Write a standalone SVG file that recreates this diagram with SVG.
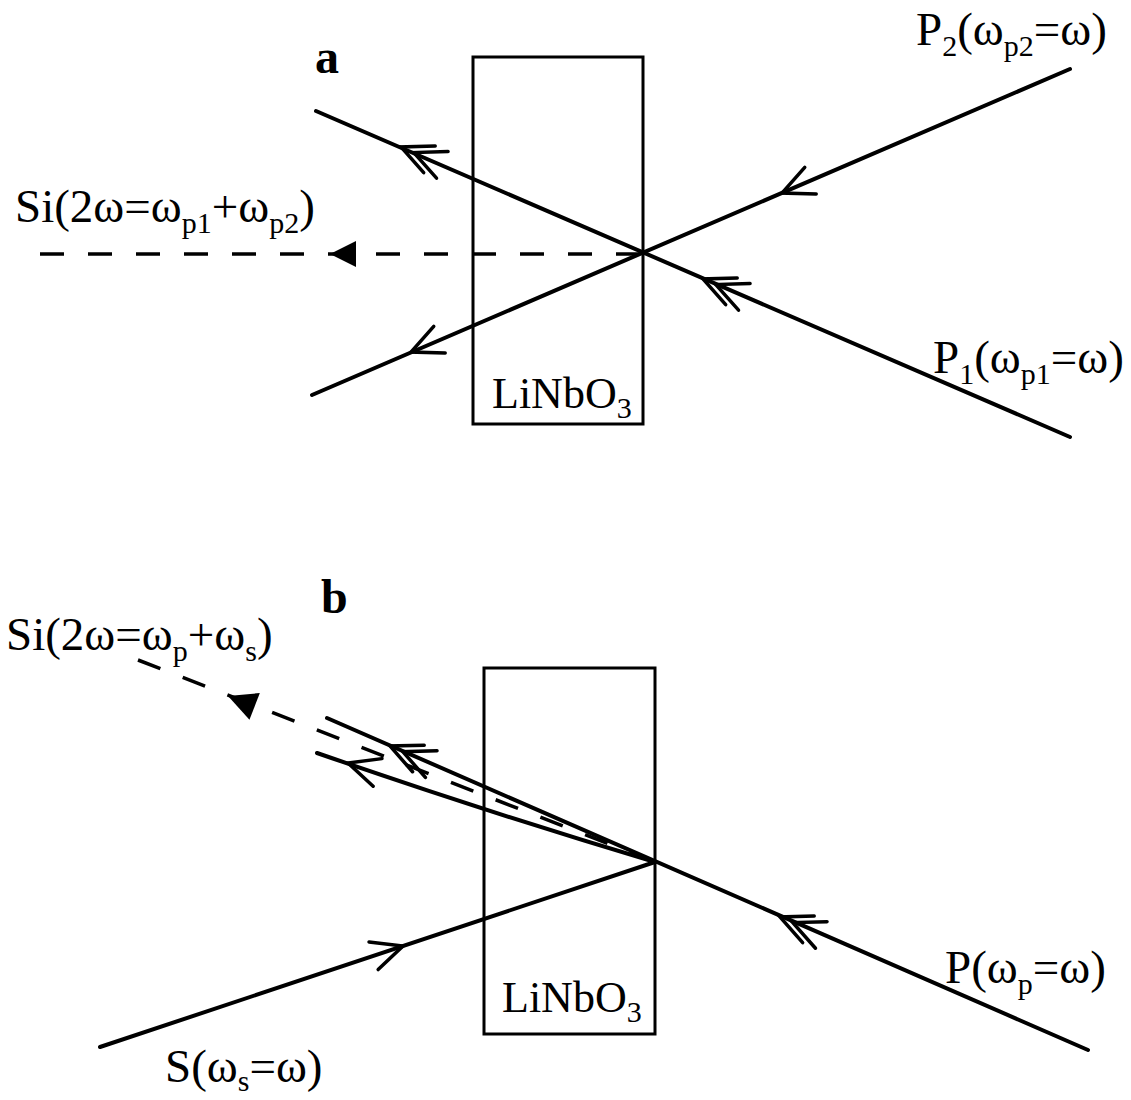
<svg xmlns="http://www.w3.org/2000/svg" xmlns:xlink="http://www.w3.org/1999/xlink" width="1131" height="1100" viewBox="0 0 1131 1100">
<style>
.ray{fill:none;stroke:#000;stroke-width:4;stroke-linecap:round}
.dash{fill:none;stroke:#000;stroke-width:3.5;stroke-dasharray:24 24}
.box{fill:none;stroke:#000;stroke-width:3}
.ch{fill:none;stroke:#000;stroke-width:3.5;stroke-linecap:round;stroke-linejoin:miter}
.lbl{font-family:"Liberation Serif","Times New Roman",serif;font-size:47px;fill:#000}
.xt{font-family:"Liberation Serif","Times New Roman",serif;font-size:44px;fill:#000}
.sub{font-size:30px}
.pl{font-family:"Liberation Serif","Times New Roman",serif;font-size:48px;font-weight:bold;fill:#000}
</style>
<defs>
<path id="ch1" class="ch" d="M31,-14.5 L0,0 L31,14.5"/>
<path id="ch2" class="ch" d="M31,-14.5 L0,0 L31,14.5 M45,-14.5 L14,0 L45,14.5"/>
<path id="tri" d="M0,0 L26,-13 L26,13 Z" fill="#000"/>
</defs>
<rect width="1131" height="1100" fill="#fff"/>

<!-- Panel a -->
<g id="panel-a-label"><text class="pl" x="315" y="73">a</text></g>
<g id="crystal-a">
<rect class="box" x="473" y="57" width="170" height="367"/>
<text class="xt" x="492" y="408">LiNbO<tspan class="sub" dy="10">3</tspan></text>
</g>
<g id="connectors-a">
<line class="ray" x1="1070" y1="437" x2="316" y2="111"/>
<line class="ray" x1="1070" y1="69" x2="312" y2="395"/>
<line class="dash" x1="40" y1="254" x2="643" y2="254"/>
<use href="#tri" transform="translate(330,254)"/>
<use href="#ch2" transform="translate(401,147) rotate(23.4)"/>
<use href="#ch2" transform="translate(703,279) rotate(23.4)"/>
<use href="#ch1" transform="translate(411,352) rotate(-23.3)"/>
<use href="#ch1" transform="translate(782,193) rotate(-23.3)"/>
</g>
<g id="label-Si-a"><text class="lbl" x="15" y="222">Si(2ω=ω<tspan class="sub" dy="11">p1</tspan><tspan dy="-11">+ω</tspan><tspan class="sub" dy="11">p2</tspan><tspan dy="-11">)</tspan></text></g>
<g id="label-P2"><text class="lbl" x="916" y="45">P<tspan class="sub" dy="11">2</tspan><tspan dy="-11">(ω</tspan><tspan class="sub" dy="11">p2</tspan><tspan dy="-11">=ω)</tspan></text></g>
<g id="label-P1"><text class="lbl" x="933" y="373">P<tspan class="sub" dy="11">1</tspan><tspan dy="-11">(ω</tspan><tspan class="sub" dy="11">p1</tspan><tspan dy="-11">=ω)</tspan></text></g>

<!-- Panel b -->
<g id="panel-b-label"><text class="pl" x="321" y="613">b</text></g>
<g id="crystal-b">
<rect class="box" x="484" y="668" width="171" height="366"/>
<text class="xt" x="502" y="1012">LiNbO<tspan class="sub" dy="10">3</tspan></text>
</g>
<g id="connectors-b">
<line class="ray" x1="1088" y1="1050" x2="327" y2="718"/>
<path class="ray" d="M655,862 Q490,813 317,753"/>
<line class="ray" x1="100" y1="1047" x2="655" y2="862"/>
<line class="dash" x1="138" y1="660" x2="655" y2="862"/>
<use href="#tri" transform="translate(228,696) rotate(21.3) scale(1.1)"/>
<use href="#ch2" transform="translate(390,746) rotate(23.7)"/>
<use href="#ch1" transform="translate(348,763) rotate(17.7)"/>
<use href="#ch2" transform="translate(780,917) rotate(23.5)"/>
<use href="#ch1" transform="translate(403,946) rotate(161.6)"/>
</g>
<g id="label-Si-b"><text class="lbl" x="6" y="650">Si(2ω=ω<tspan class="sub" dy="11">p</tspan><tspan dy="-11">+ω</tspan><tspan class="sub" dy="11">s</tspan><tspan dy="-11">)</tspan></text></g>
<g id="label-P"><text class="lbl" x="945" y="983">P(ω<tspan class="sub" dy="11">p</tspan><tspan dy="-11">=ω)</tspan></text></g>
<g id="label-S"><text class="lbl" x="165" y="1082">S(ω<tspan class="sub" dy="9">s</tspan><tspan dy="-9">=ω)</tspan></text></g>
</svg>
